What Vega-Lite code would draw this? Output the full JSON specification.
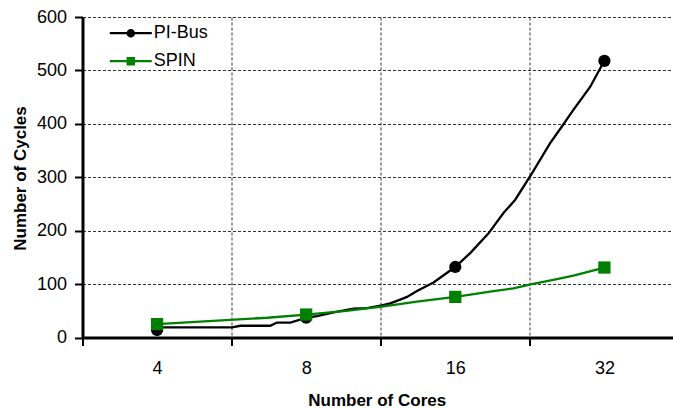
{
  "$schema": "https://vega.github.io/schema/vega-lite/v6.json",
  "autosize": "none",
  "width": 590.5,
  "height": 320.5,
  "padding": {"left": 82.5, "top": 17, "right": 0, "bottom": 70.5},
  "background": "white",
  "config": {
    "view": {"stroke": null},
    "font": "Liberation Sans",
    "legend": {
      "orient": "none", "legendX": 36.3, "legendY": 4.2, "padding": 0,
      "symbolSize": 441, "symbolStrokeWidth": 2.2, "labelOffset": 11, "rowPadding": 7,
      "labelFont": "Liberation Sans", "labelFontSize": 18, "labelColor": "black", "symbolOpacity": 1
    }
  },
  "datasets": {
    "curve": [
      {"series": "PI-Bus", "idx": 1.000, "value": 14},
      {"series": "PI-Bus", "idx": 1.034, "value": 19},
      {"series": "PI-Bus", "idx": 1.503, "value": 19},
      {"series": "PI-Bus", "idx": 1.558, "value": 22},
      {"series": "PI-Bus", "idx": 1.759, "value": 22},
      {"series": "PI-Bus", "idx": 1.804, "value": 28},
      {"series": "PI-Bus", "idx": 1.893, "value": 28},
      {"series": "PI-Bus", "idx": 2.005, "value": 37},
      {"series": "PI-Bus", "idx": 2.072, "value": 40},
      {"series": "PI-Bus", "idx": 2.184, "value": 47},
      {"series": "PI-Bus", "idx": 2.318, "value": 54},
      {"series": "PI-Bus", "idx": 2.408, "value": 55},
      {"series": "PI-Bus", "idx": 2.508, "value": 60},
      {"series": "PI-Bus", "idx": 2.564, "value": 64},
      {"series": "PI-Bus", "idx": 2.631, "value": 71},
      {"series": "PI-Bus", "idx": 2.676, "value": 76},
      {"series": "PI-Bus", "idx": 2.743, "value": 87},
      {"series": "PI-Bus", "idx": 2.854, "value": 103},
      {"series": "PI-Bus", "idx": 2.999, "value": 132},
      {"series": "PI-Bus", "idx": 3.100, "value": 158},
      {"series": "PI-Bus", "idx": 3.223, "value": 195},
      {"series": "PI-Bus", "idx": 3.323, "value": 233},
      {"series": "PI-Bus", "idx": 3.402, "value": 258},
      {"series": "PI-Bus", "idx": 3.513, "value": 307},
      {"series": "PI-Bus", "idx": 3.636, "value": 364},
      {"series": "PI-Bus", "idx": 3.715, "value": 395},
      {"series": "PI-Bus", "idx": 3.792, "value": 426},
      {"series": "PI-Bus", "idx": 3.904, "value": 469},
      {"series": "PI-Bus", "idx": 4.000, "value": 518},
      {"series": "SPIN", "idx": 1.000, "value": 25},
      {"series": "SPIN", "idx": 1.740, "value": 37},
      {"series": "SPIN", "idx": 2.000, "value": 43},
      {"series": "SPIN", "idx": 2.268, "value": 50},
      {"series": "SPIN", "idx": 2.508, "value": 58},
      {"series": "SPIN", "idx": 2.743, "value": 67},
      {"series": "SPIN", "idx": 3.000, "value": 76},
      {"series": "SPIN", "idx": 3.123, "value": 81},
      {"series": "SPIN", "idx": 3.256, "value": 87},
      {"series": "SPIN", "idx": 3.390, "value": 92},
      {"series": "SPIN", "idx": 3.513, "value": 100},
      {"series": "SPIN", "idx": 3.658, "value": 108},
      {"series": "SPIN", "idx": 3.792, "value": 116},
      {"series": "SPIN", "idx": 4.000, "value": 131}
    ],
    "markers": [
      {"series": "PI-Bus", "cores": 4, "idx": 1, "value": 14},
      {"series": "PI-Bus", "cores": 8, "idx": 2, "value": 37},
      {"series": "PI-Bus", "cores": 16, "idx": 3, "value": 132},
      {"series": "PI-Bus", "cores": 32, "idx": 4, "value": 518},
      {"series": "SPIN", "cores": 4, "idx": 1, "value": 25},
      {"series": "SPIN", "cores": 8, "idx": 2, "value": 43},
      {"series": "SPIN", "cores": 16, "idx": 3, "value": 76},
      {"series": "SPIN", "cores": 32, "idx": 4, "value": 131}
    ]
  },
  "encoding": {
    "x": {
      "field": "idx", "type": "quantitative",
      "scale": {"domain": [0.5, 4.46], "nice": false, "zero": false},
      "axis": {
        "title": "Number of Cores",
        "titleFont": "Liberation Sans", "titleFontSize": 17, "titleFontWeight": "bold", "titleColor": "black",
        "titleX": 294.2, "titleY": 67.5, "titleAlign": "center", "titleBaseline": "alphabetic", "titleAnchor": null,
        "values": [0.5, 1, 1.5, 2, 2.5, 3, 3.5, 4],
        "labelExpr": "datum.value == 1 ? '4' : datum.value == 2 ? '8' : datum.value == 3 ? '16' : datum.value == 4 ? '32' : ''",
        "labelFont": "Liberation Sans", "labelFontSize": 18, "labelColor": "black",
        "labelPadding": 14, "labelFlush": false, "labelOverlap": false,
        "domainColor": "black", "domainWidth": 3,
        "tickColor": "black", "tickWidth": 2, "tickSize": 8,
        "tickOpacity": {"condition": {"test": "datum.value % 1 != 0", "value": 1}, "value": 0},
        "grid": true,
        "gridColor": "#333333", "gridDash": [3, 2], "gridWidth": 1,
        "gridOpacity": {"condition": {"test": "datum.value % 1 != 0", "value": 1}, "value": 0}
      }
    },
    "y": {
      "field": "value", "type": "quantitative",
      "scale": {"domain": [0, 600], "nice": false},
      "axis": {
        "title": "Number of Cycles",
        "titleFont": "Liberation Sans", "titleFontSize": 17, "titleFontWeight": "bold", "titleColor": "black",
        "titleAngle": -90, "titleX": -62.5, "titleY": 161, "titleAlign": "center", "titleBaseline": "middle", "titleAnchor": null,
        "values": [0, 100, 200, 300, 400, 500, 600],
        "labelFont": "Liberation Sans", "labelFontSize": 18, "labelColor": "black", "labelPadding": 8,
        "domainColor": "black", "domainWidth": 3,
        "tickColor": "black", "tickWidth": 2, "tickSize": 8,
        "grid": true, "gridColor": "#333333", "gridDash": [3, 2], "gridWidth": 1
      }
    }
  },
  "layer": [
    {
      "mark": {"type": "rule", "color": "#6a0c0c", "strokeWidth": 2.5},
      "encoding": {"y": {"datum": 600}, "x": null}
    },
    {
      "data": {"name": "curve"},
      "mark": {"type": "line", "strokeWidth": 2.3},
      "encoding": {
        "color": {"field": "series", "type": "nominal",
          "scale": {"domain": ["PI-Bus", "SPIN"], "range": ["#000000", "#008000"]}, "legend": null}
      }
    },
    {
      "data": {"name": "markers"},
      "mark": {"type": "point", "filled": true, "opacity": 1, "size": 150, "strokeWidth": 1},
      "encoding": {
        "color": {"field": "series", "type": "nominal",
          "scale": {"domain": ["PI-Bus", "SPIN"], "range": ["#000000", "#008000"]}, "legend": null},
        "shape": {"field": "series", "type": "nominal",
          "scale": {"domain": ["PI-Bus", "SPIN"], "range": ["circle", "square"]}, "legend": null}
      }
    },
    {
      "data": {"name": "markers"},
      "transform": [{"filter": "false"}],
      "mark": {"type": "point", "filled": false, "opacity": 1, "strokeWidth": 2.2},
      "encoding": {
        "color": {"field": "series", "type": "nominal",
          "scale": {"domain": ["PI-Bus", "SPIN"], "range": ["#000000", "#008000"]},
          "legend": {"title": null}},
        "shape": {"field": "series", "type": "nominal",
          "scale": {"domain": ["PI-Bus", "SPIN"], "range": [
            "M-2,0H2M0.3,0A0.3,0.3,0,1,1,-0.3,0A0.3,0.3,0,1,1,0.3,0ZM0.12,0A0.12,0.12,0,1,1,-0.12,0A0.12,0.12,0,1,1,0.12,0Z",
            "M-2,0H2M-0.3,-0.3H0.3V0.3H-0.3ZM-0.1,-0.1H0.1V0.1H-0.1Z"
          ]},
          "legend": {"title": null}}
      }
    }
  ],
  "resolve": {"scale": {"shape": "independent", "color": "independent"}}
}
